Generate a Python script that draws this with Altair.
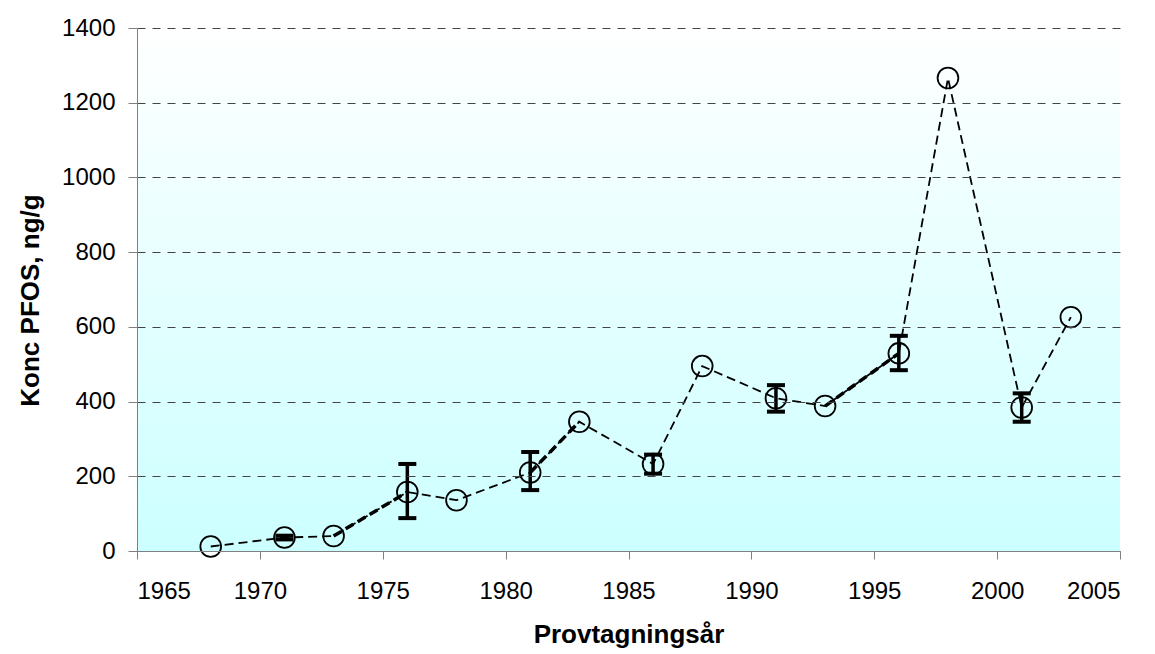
import altair as alt
import pandas as pd

years = [1968, 1971, 1973, 1976, 1978, 1981, 1983, 1986, 1988, 1991, 1993, 1996, 1998, 2001, 2003]
conc = [12, 36, 40, 158, 136, 210, 346, 233, 495, 409, 388, 529, 1266, 384, 626]
err_lo = [None, 31, None, 88, None, 163, None, 207, None, 373, None, 484, None, 346, None]
err_hi = [None, 41, None, 233, None, 265, None, 258, None, 444, None, 576, None, 422, None]
# segments of the dashed line that are drawn heavier in the original
thick_from = [1973, 1981, 1993]
thick_to = [1976, 1983, 1996]

df = pd.DataFrame({"year": years, "conc": conc, "lo": err_lo, "hi": err_hi})
eb = df.dropna()
lookup = dict(zip(years, conc))
seg_rows = []
for i, (a, b) in enumerate(zip(thick_from, thick_to)):
    seg_rows.append({"seg": i, "year": a, "conc": lookup[a]})
    seg_rows.append({"seg": i, "year": b, "conc": lookup[b]})
seg = pd.DataFrame(seg_rows)

W, H = 983, 523
xs = alt.Scale(domain=[1965, 2005], nice=False, zero=False)
ys = alt.Scale(domain=[0, 1400], nice=False)

bg = alt.Chart(df).mark_rect(
    fill=alt.Gradient(gradient="linear", x1=0, x2=0, y1=0, y2=1,
                      stops=[alt.GradientStop(color="#ffffff", offset=0),
                             alt.GradientStop(color="#ccffff", offset=1)])
).encode(x=alt.value(0), x2=alt.value(W), y=alt.value(0), y2=alt.value(H))

xax = alt.Axis(values=list(range(1965, 2006, 5)), format="d", grid=False,
               title="Provtagningsår", tickSize=8, tickColor="#808080",
               domainColor="#808080", labelPadding=20, titlePadding=18, zindex=1)
yax = alt.Axis(values=list(range(0, 1401, 200)), format="d", grid=True, gridDash=[8, 7],
               gridColor="#444444", gridWidth=1, gridOpacity=1, title="Konc PFOS, ng/g",
               tickSize=9, tickColor="#808080", domainColor="#808080",
               labelPadding=13, titlePadding=18, titleY=272, zindex=1)

X = alt.X("year:Q", scale=xs, axis=xax)

line = alt.Chart(df).mark_line(color="black", strokeDash=[9, 5], strokeWidth=1.8).encode(
    x=X, y=alt.Y("conc:Q", scale=ys, axis=yax))

thick = alt.Chart(seg).mark_line(color="black", strokeDash=[9, 5], strokeWidth=3.5).encode(
    x=X, y=alt.Y("conc:Q", scale=ys, axis=yax), detail="seg:N")

rules = alt.Chart(eb).mark_rule(color="black", strokeWidth=3.5).encode(
    x=X, y=alt.Y("lo:Q", scale=ys, axis=yax), y2="hi:Q")
cap_lo = alt.Chart(eb).mark_tick(color="black", thickness=4, size=18, orient="horizontal", opacity=1).encode(
    x=X, y=alt.Y("lo:Q", scale=ys, axis=yax))
cap_hi = alt.Chart(eb).mark_tick(color="black", thickness=4, size=18, orient="horizontal", opacity=1).encode(
    x=X, y=alt.Y("hi:Q", scale=ys, axis=yax))

pts = alt.Chart(df).mark_point(shape="circle", size=430, filled=False, color="black",
                               strokeWidth=1.8, opacity=1).encode(
    x=X, y=alt.Y("conc:Q", scale=ys, axis=yax))

chart = alt.layer(bg, line, thick, rules, cap_lo, cap_hi, pts).properties(
    width=W, height=H,
    autosize=alt.AutoSizeParams(type="none"),
    padding={"left": 129, "top": 20, "right": 20, "bottom": 100},
).configure(background="white").configure_view(stroke=None).configure_axis(
    labelFont="Liberation Sans", titleFont="Liberation Sans",
    labelFontSize=24, titleFontSize=26, titleFontWeight="bold",
    labelColor="black", titleColor="black",
)

chart.save("out.html", embed_options={"renderer": "svg", "actions": False})
